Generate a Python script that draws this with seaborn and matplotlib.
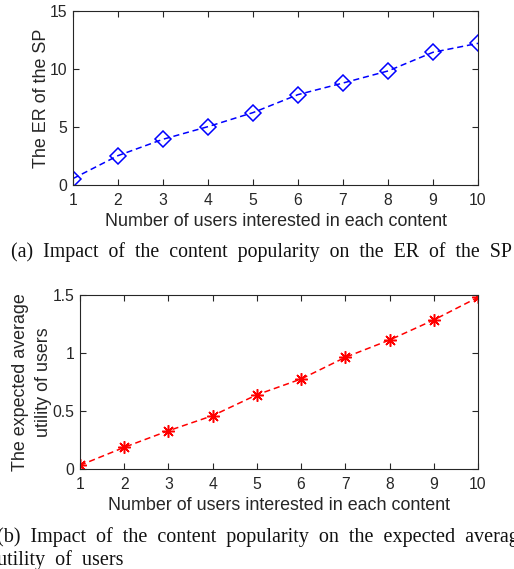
import matplotlib
matplotlib.use("Agg")
import numpy as np
import pandas as pd
import seaborn as sns
import matplotlib.pyplot as plt

# data
users = [1, 2, 3, 4, 5, 6, 7, 8, 9, 10]
er_sp = [0.55, 2.53, 3.94, 5.03, 6.24, 7.79, 8.79, 9.83, 11.44, 12.21]
avg_utility = [0.032, 0.187, 0.33, 0.46, 0.64, 0.776, 0.963, 1.112, 1.285, 1.48]

sns.set_style("ticks")
plt.rcParams["font.family"] = ["Liberation Sans", "DejaVu Sans"]
plt.rcParams["xtick.direction"] = "in"
plt.rcParams["ytick.direction"] = "in"

fig = plt.figure(figsize=(5.14, 5.69), dpi=100)
ax1 = fig.add_axes([0.142, 0.6749, 0.788, 0.3058])
ax2 = fig.add_axes([0.1556, 0.1757, 0.7743, 0.3058])

df = pd.DataFrame({"users": users, "er": er_sp, "util": avg_utility})

sns.lineplot(data=df, x="users", y="er", ax=ax1, color="blue",
             linewidth=1.1, marker="D", markersize=8.5, markerfacecolor="none",
             markeredgecolor="blue", markeredgewidth=1.1)
sns.lineplot(data=df, x="users", y="util", ax=ax2, color="red",
             linewidth=1.1, marker=(8, 2, 0), markersize=9,
             markeredgecolor="red", markeredgewidth=1.1)
for ax in (ax1, ax2):
    for ln in ax.lines:
        ln.set_linestyle((0, (4, 2.5)))

fs = 12.9
tfs = 11.3
for ax in (ax1, ax2):
    ax.set_xlim(1, 10)
    ax.set_xticks(users)
    ax.set_xlabel("Number of users interested in each content", fontsize=fs, color="#262626", labelpad=4)
    ax.tick_params(axis="both", labelsize=tfs, colors="#262626", length=4, width=0.8,
                   top=True, right=True)
    ax.tick_params(axis="x", pad=5.5)
    ax.tick_params(axis="y", pad=4)
    for s in ax.spines.values():
        s.set_color("#262626")
        s.set_linewidth(0.8)
        s.set_visible(True)

ax1.set_ylim(0, 15)
ax1.set_yticks([0, 5, 10, 15])
ax1.set_ylabel("The ER of the SP", fontsize=fs, color="#262626", labelpad=0)

ax2.set_ylim(0, 1.5)
ax2.set_yticks([0, 0.5, 1, 1.5])
ax2.set_yticklabels(["0", "0.5", "1", "1.5"])
ax2.set_ylabel("The expected average\nutility of users", fontsize=fs, color="#262626",
               labelpad=0.5, linespacing=1.45)

cap = dict(family=["Liberation Serif", "DejaVu Serif"], color="#111111")
fig.text(0.508, 1 - 252 / 569, "(a)  Impact  of  the  content  popularity  on  the  ER  of  the  SP",
         ha="center", va="center", fontsize=14.3, **cap)
fig.text(-0.006, 1 - 537 / 569, "(b)  Impact  of  the  content  popularity  on  the  expected  average",
         ha="left", va="center", fontsize=14.5, **cap)
fig.text(-0.006, 1 - 560 / 569, "utility  of  users", ha="left", va="center", fontsize=14.5, **cap)

fig.savefig("out.png", dpi=100)
